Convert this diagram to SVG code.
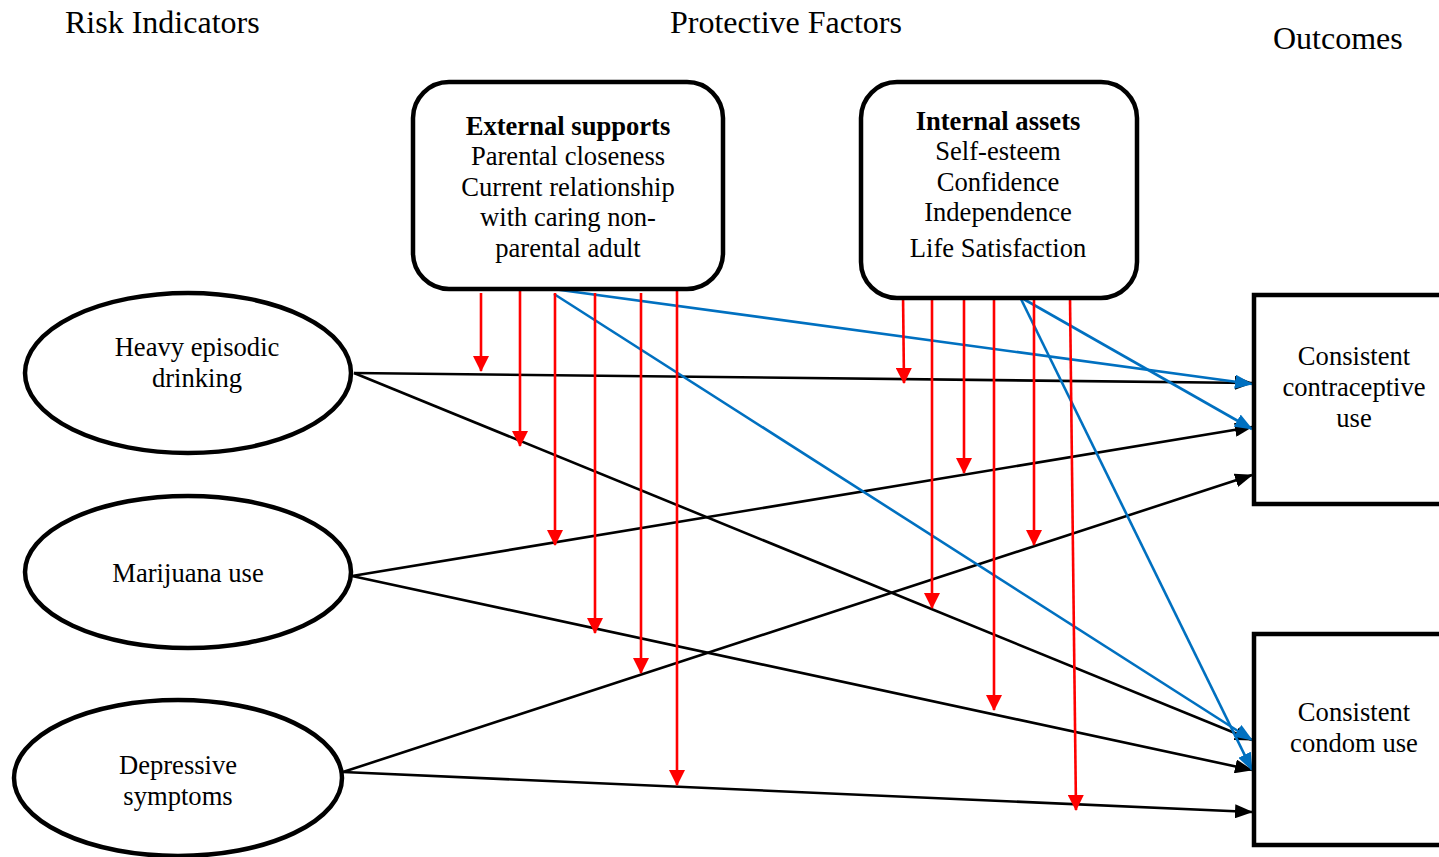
<svg xmlns="http://www.w3.org/2000/svg" width="1439" height="857" viewBox="0 0 1439 857">
<defs>
<style>
text{font-family:"Liberation Serif","Times New Roman",serif;fill:#000}
.h{font-size:32px}
.t{font-size:26.6px;text-anchor:middle}
.b{font-weight:bold}
.node{fill:#fff;stroke:#000;stroke-width:4.5}
.blk{stroke:#000;stroke-width:2.6;fill:none;marker-end:url(#ak)}
.blu{stroke:#0070C0;stroke-width:2.6;fill:none;marker-end:url(#ab)}
.red{stroke:#FF0000;stroke-width:2.6;fill:none;marker-end:url(#ar)}
</style>
<marker id="ak" markerWidth="18" markerHeight="14" refX="17" refY="7" orient="auto" markerUnits="userSpaceOnUse"><path d="M0,0 L18,7 L0,14 z" fill="#000"/></marker>
<marker id="ab" markerWidth="18" markerHeight="14" refX="17" refY="7" orient="auto" markerUnits="userSpaceOnUse"><path d="M0,0 L18,7 L0,14 z" fill="#0070C0"/></marker>
<marker id="ar" markerWidth="16" markerHeight="16" refX="15" refY="8" orient="auto" markerUnits="userSpaceOnUse"><path d="M0,0 L16,8 L0,16 z" fill="#FF0000"/></marker>
</defs>
<rect width="1439" height="857" fill="#fff"/>
<text class="h" x="65" y="33">Risk Indicators</text>
<text class="h" x="670" y="33">Protective Factors</text>
<text class="h" x="1273" y="49">Outcomes</text>

<g id="connectors">
<line class="blk" x1="354" y1="373" x2="1252" y2="383"/>
<line class="blk" x1="354" y1="373" x2="1252" y2="740"/>
<line class="blk" x1="352" y1="576" x2="1252" y2="427"/>
<line class="blk" x1="352" y1="576" x2="1252" y2="770"/>
<line class="blk" x1="343" y1="772" x2="1252" y2="475"/>
<line class="blk" x1="343" y1="772" x2="1252" y2="812"/>
<line class="blu" x1="553" y1="289" x2="1252" y2="384"/>
<line class="blu" x1="554" y1="294" x2="1252" y2="740"/>
<line class="blu" x1="1020" y1="297" x2="1252" y2="429"/>
<line class="blu" x1="1020" y1="297" x2="1252" y2="770"/>
<line class="red" x1="481" y1="293" x2="481" y2="371"/>
<line class="red" x1="520" y1="289" x2="520" y2="446"/>
<line class="red" x1="555" y1="293" x2="555" y2="545"/>
<line class="red" x1="595" y1="293" x2="595" y2="633"/>
<line class="red" x1="641" y1="293" x2="641" y2="673"/>
<line class="red" x1="677" y1="288" x2="677" y2="785"/>
<line class="red" x1="903" y1="293" x2="904" y2="383"/>
<line class="red" x1="932" y1="298" x2="932" y2="608"/>
<line class="red" x1="964" y1="298" x2="964" y2="473"/>
<line class="red" x1="994" y1="298" x2="994" y2="710"/>
<line class="red" x1="1034" y1="298" x2="1034" y2="545"/>
<line class="red" x1="1070" y1="298" x2="1076" y2="810"/>
</g>

<g id="external">
<rect class="node" x="413" y="82" width="310" height="207" rx="36"/>
<text class="t b" x="568" y="135">External supports</text>
<text class="t" x="568" y="165">Parental closeness</text>
<text class="t" x="568" y="196">Current relationship</text>
<text class="t" x="568" y="226">with caring non-</text>
<text class="t" x="568" y="257">parental adult</text>
</g>
<g id="internal">
<rect class="node" x="861" y="82" width="276" height="216" rx="36"/>
<text class="t b" x="998" y="130">Internal assets</text>
<text class="t" x="998" y="160">Self-esteem</text>
<text class="t" x="998" y="191">Confidence</text>
<text class="t" x="998" y="221">Independence</text>
<text class="t" x="998" y="257">Life Satisfaction</text>
</g>
<g id="heavy">
<ellipse class="node" cx="188" cy="373" rx="163" ry="80"/>
<text class="t" x="197" y="356">Heavy episodic</text>
<text class="t" x="197" y="387">drinking</text>
</g>
<g id="marijuana">
<ellipse class="node" cx="188" cy="572" rx="163" ry="76"/>
<text class="t" x="188" y="582">Marijuana use</text>
</g>
<g id="depressive">
<ellipse class="node" cx="178" cy="778" rx="164" ry="78"/>
<text class="t" x="178" y="774">Depressive</text>
<text class="t" x="178" y="805">symptoms</text>
</g>
<g id="contraceptive">
<rect class="node" x="1254" y="295" width="200" height="209"/>
<text class="t" x="1354" y="365">Consistent</text>
<text class="t" x="1354" y="396">contraceptive</text>
<text class="t" x="1354" y="427">use</text>
</g>
<g id="condom">
<rect class="node" x="1254" y="634" width="200" height="211"/>
<text class="t" x="1354" y="721">Consistent</text>
<text class="t" x="1354" y="752">condom use</text>
</g>
</svg>
